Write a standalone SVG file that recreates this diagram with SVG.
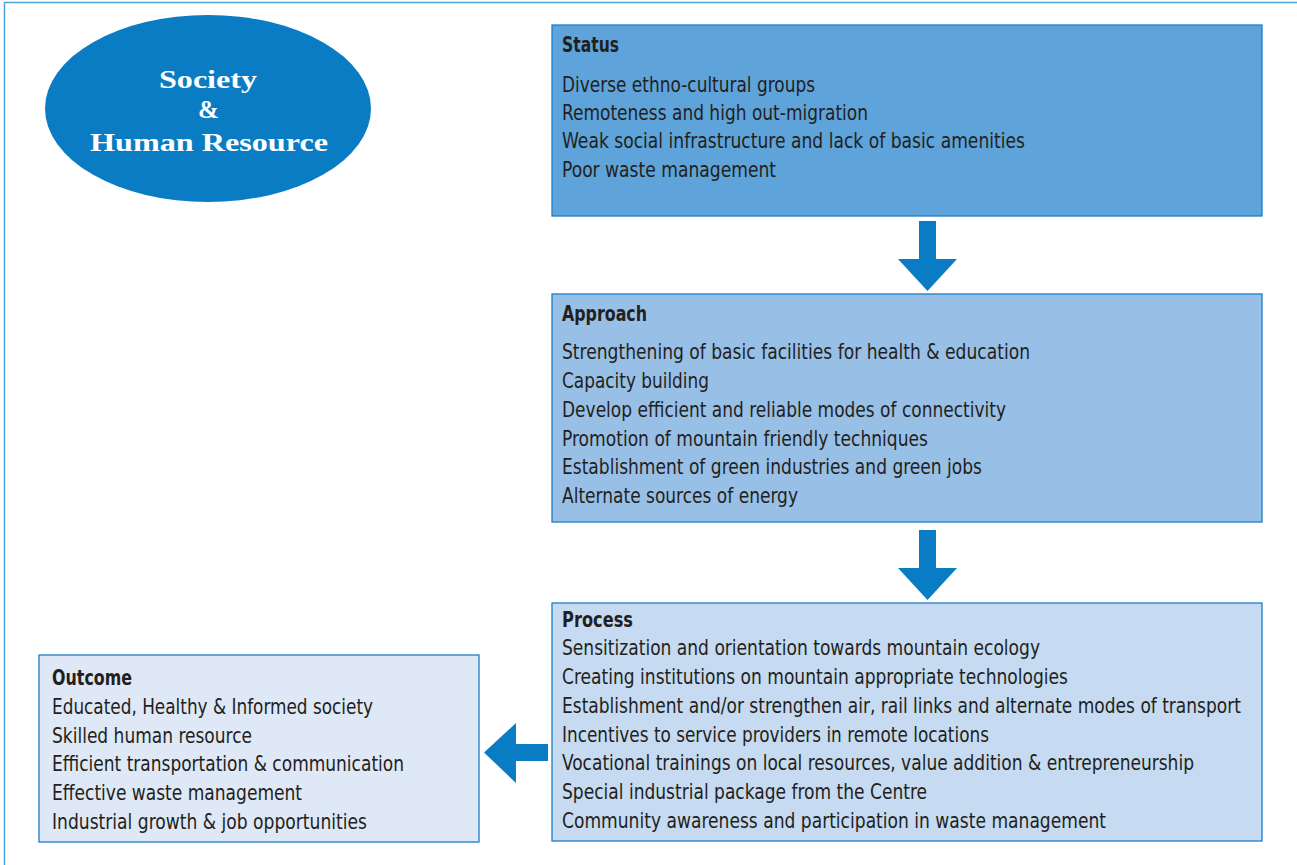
<svg xmlns="http://www.w3.org/2000/svg" width="1297" height="865" viewBox="0 0 1297 865">
<style>
.box{stroke:#1a7fc8;stroke-width:1.3}
.t{font-family:"DejaVu Sans Condensed","Liberation Sans",sans-serif;font-size:21px;fill:#231f20}
.h{font-weight:bold}
.arr{fill:#0a7cc4}
.title{font-family:"Liberation Serif","DejaVu Serif",serif;font-weight:bold;font-size:25px;fill:#ffffff;text-anchor:middle}
</style>
<rect width="1297" height="865" fill="#ffffff"/>
<path d="M4.5 865 V2.5 H1297" fill="none" stroke="#4da3dc" stroke-width="1.5"/>
<g id="society">
<ellipse cx="208" cy="108.5" rx="163" ry="93.5" fill="#0a7cc4"/>
<text class="title" x="208" y="88" textLength="98" lengthAdjust="spacingAndGlyphs">Society</text>
<text class="title" x="208.5" y="118">&amp;</text>
<text class="title" x="209" y="151" textLength="238" lengthAdjust="spacingAndGlyphs">Human Resource</text>
</g>
<g id="status">
<rect class="box" x="552" y="25" width="710" height="191" fill="#5ea3d9"/>
<text class="t h" x="562" y="52" textLength="57" lengthAdjust="spacingAndGlyphs">Status</text>
<text class="t" x="562" y="92" textLength="253" lengthAdjust="spacingAndGlyphs">Diverse ethno-cultural groups</text>
<text class="t" x="562" y="120" textLength="306" lengthAdjust="spacingAndGlyphs">Remoteness and high out-migration</text>
<text class="t" x="562" y="148" textLength="463" lengthAdjust="spacingAndGlyphs">Weak social infrastructure and lack of basic amenities</text>
<text class="t" x="562" y="177" textLength="214" lengthAdjust="spacingAndGlyphs">Poor waste management</text>
</g>
<g id="approach">
<rect class="box" x="552" y="294" width="710" height="228" fill="#98bfe6"/>
<text class="t h" x="562" y="321" textLength="85" lengthAdjust="spacingAndGlyphs">Approach</text>
<text class="t" x="562" y="359" textLength="468" lengthAdjust="spacingAndGlyphs">Strengthening of basic facilities for health &amp; education</text>
<text class="t" x="562" y="388" textLength="147" lengthAdjust="spacingAndGlyphs">Capacity building</text>
<text class="t" x="562" y="417" textLength="444" lengthAdjust="spacingAndGlyphs">Develop efficient and reliable modes of connectivity</text>
<text class="t" x="562" y="446" textLength="366" lengthAdjust="spacingAndGlyphs">Promotion of mountain friendly techniques</text>
<text class="t" x="562" y="474" textLength="420" lengthAdjust="spacingAndGlyphs">Establishment of green industries and green jobs</text>
<text class="t" x="562" y="503" textLength="236" lengthAdjust="spacingAndGlyphs">Alternate sources of energy</text>
</g>
<g id="process">
<rect class="box" x="552" y="603" width="710" height="238" fill="#c6dbf1"/>
<text class="t h" x="562" y="627" textLength="71" lengthAdjust="spacingAndGlyphs">Process</text>
<text class="t" x="562" y="655" textLength="478" lengthAdjust="spacingAndGlyphs">Sensitization and orientation towards mountain ecology</text>
<text class="t" x="562" y="684" textLength="506" lengthAdjust="spacingAndGlyphs">Creating institutions on mountain appropriate technologies</text>
<text class="t" transform="translate(562,713) scale(0.884,1)" x="0" y="0" textLength="768" lengthAdjust="spacingAndGlyphs">Establishment and/or strengthen air, rail links and alternate modes of transport</text>
<text class="t" x="562" y="742" textLength="427" lengthAdjust="spacingAndGlyphs">Incentives to service providers in remote locations</text>
<text class="t" x="562" y="770" textLength="632" lengthAdjust="spacingAndGlyphs">Vocational trainings on local resources, value addition &amp; entrepreneurship</text>
<text class="t" x="562" y="799" textLength="365" lengthAdjust="spacingAndGlyphs">Special industrial package from the Centre</text>
<text class="t" x="562" y="828" textLength="544" lengthAdjust="spacingAndGlyphs">Community awareness and participation in waste management</text>
</g>
<g id="outcome">
<rect class="box" x="39" y="655" width="440" height="187" fill="#dfe8f6"/>
<text class="t h" x="52" y="685" textLength="80" lengthAdjust="spacingAndGlyphs">Outcome</text>
<text class="t" x="52" y="714" textLength="321" lengthAdjust="spacingAndGlyphs">Educated, Healthy &amp; Informed society</text>
<text class="t" x="52" y="743" textLength="200" lengthAdjust="spacingAndGlyphs">Skilled human resource</text>
<text class="t" x="52" y="771" textLength="352" lengthAdjust="spacingAndGlyphs">Efficient transportation &amp; communication</text>
<text class="t" x="52" y="800" textLength="250" lengthAdjust="spacingAndGlyphs">Effective waste management</text>
<text class="t" x="52" y="829" textLength="315" lengthAdjust="spacingAndGlyphs">Industrial growth &amp; job opportunities</text>
</g>
<g id="connectors">
<polygon class="arr" points="919,221 936,221 936,259 957,259 927.5,291 898,259 919,259"/>
<polygon class="arr" points="919,530 936,530 936,568 957,568 927.5,600 898,568 919,568"/>
<polygon class="arr" points="548,744 548,761 516,761 516,783 484,752.5 516,723 516,744"/>
</g>
</svg>
